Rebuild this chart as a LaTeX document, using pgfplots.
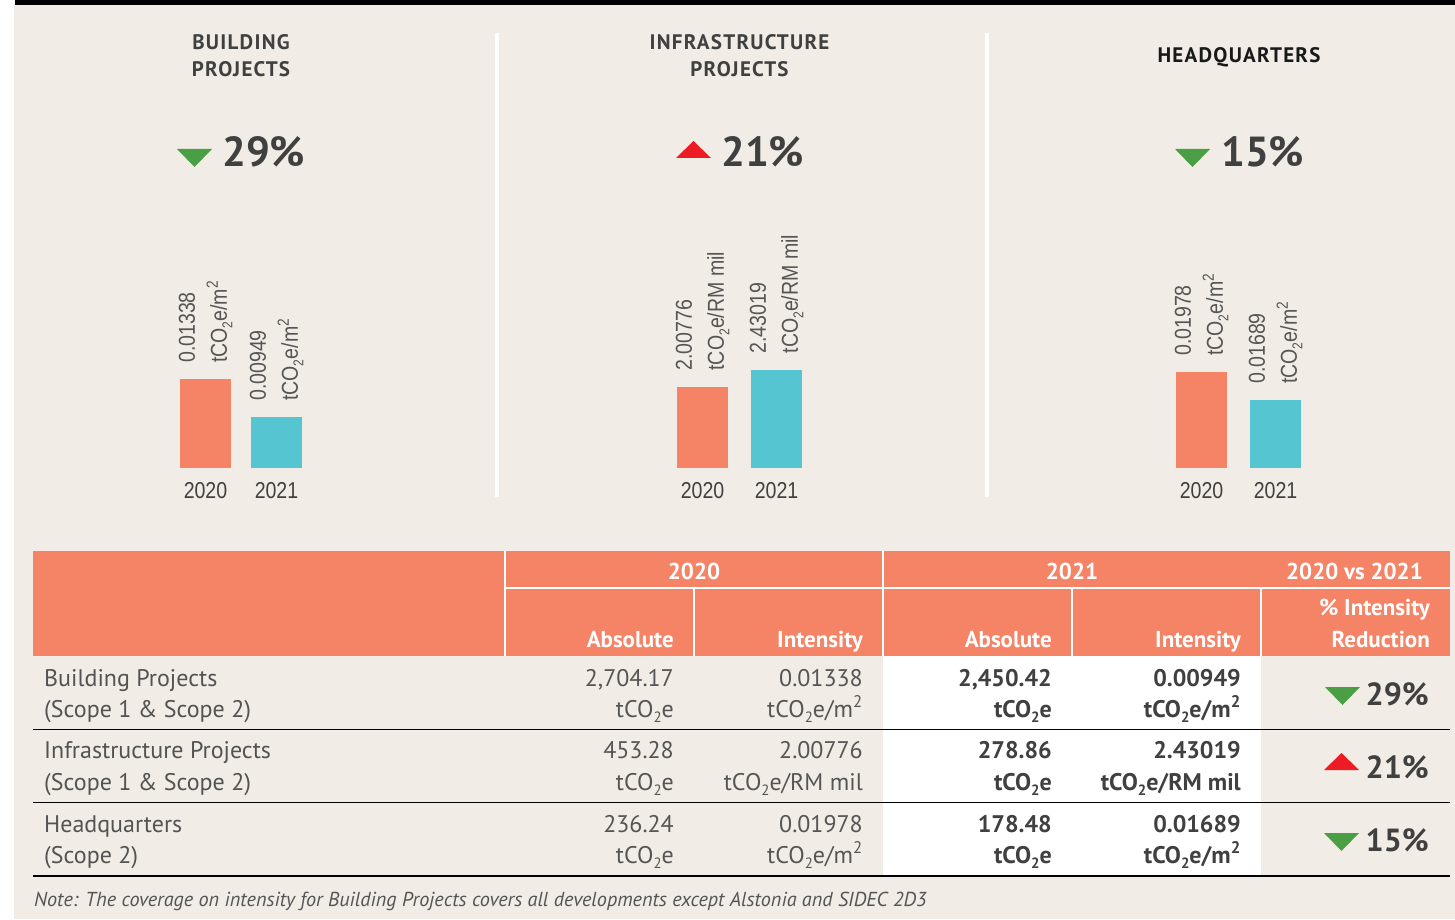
\documentclass[border=0pt]{standalone}
\usepackage{pgfplots}
\pgfplotsset{compat=1.18}
\usepackage{graphicx}
\usepackage{fontspec}
\setmainfont{PT Sans}
\newfontfamily\barfont[FakeStretch=0.85]{Liberation Sans}

\definecolor{paper}{HTML}{F1ECE5}
\definecolor{salmon}{HTML}{F58466}
\definecolor{aqua}{HTML}{55C5D1}
\definecolor{down}{HTML}{4A9E43}
\definecolor{up}{HTML}{ED1C24}
\definecolor{ink}{HTML}{404040}
\definecolor{soft}{HTML}{555555}

% small dropped subscript two, as in tCO2e
\newcommand\two{\raisebox{-0.45ex}{\scalebox{0.62}{2}}}
\newcommand\co{tCO\two e}
\newcommand\sqm{\co/m\textsuperscript{2}}
\newcommand\rmil{\co/RM mil}

% shared look of the three small bar panels
\pgfplotsset{
  panel/.style={
    anchor=south west, scale only axis,
    height=268pt,
    xmin=-0.5, xmax=1.5,
    axis line style={draw=none},
    ytick=\empty, xtick={0,1}, xticklabels={2020,2021},
    xtick style={draw=none}, major tick length=0pt,
    xticklabel style={font=\barfont\fontsize{23}{23}\selectfont, text=ink,
      inner sep=0pt, anchor=north, yshift=-14pt},
    ybar, bar width=51pt,
    point meta=explicit symbolic,
    nodes near coords style={rotate=90, anchor=west, align=left,
      font=\barfont\fontsize{23}{32}\selectfont, text=soft,
      inner xsep=16pt, inner ysep=0pt},
  },
}

\begin{document}
\begin{tikzpicture}
\path[use as bounding box] (0pt,0pt) rectangle (1455pt,919pt);
\begin{scope}[x=1pt, y=1pt, shift={(0pt,919pt)}, yscale=-1,
  title/.style={font=\bfseries\fontsize{21}{27}\selectfont\addfontfeature{LetterSpace=6},
    text=ink, align=center, inner sep=0pt},
  big/.style={font=\bfseries\fontsize{42}{42}\selectfont, text=ink, anchor=base west, inner sep=0pt},
  hd/.style={font=\bfseries\fontsize{23}{23}\selectfont, text=white, inner sep=0pt},
  lab/.style={font=\fontsize{24}{24}\selectfont, text=ink!90, anchor=base west, inner sep=0pt},
  old/.style={font=\fontsize{24}{24}\selectfont, text=soft, anchor=base east, inner sep=0pt},
  new/.style={font=\bfseries\fontsize{24}{24}\selectfont, text=ink, anchor=base east, inner sep=0pt},
  pct/.style={font=\bfseries\fontsize{32}{32}\selectfont, text=ink, anchor=base east, inner sep=0pt},
]
% page ground
\fill[white] (0,0) rectangle (1455,919);
\fill[paper] (14,5) rectangle (1455,919);
\fill[black] (15,0) rectangle (1455,5);

% panel separators
\fill[white] (495,33) rectangle (499,497);
\fill[white] (985,33) rectangle (989,497);

% panel titles
\node[title] at (241,56) {BUILDING\\PROJECTS};
\node[title] at (739.5,56) {INFRASTRUCTURE\\PROJECTS};
\node[title, text=black!90, anchor=base] at (1239,63) {HEADQUARTERS};

% headline changes
\fill[down] (177,149) -- (212,149) -- (194.5,167) -- cycle;
\node[big] at (222,167) {29\%};
\fill[up] (676,158) -- (711,158) -- (693.5,141) -- cycle;
\node[big] at (721,167) {21\%};
\fill[down] (1175,149) -- (1210,149) -- (1192.5,167) -- cycle;
\node[big] at (1221,167) {15\%};

% table header
\fill[salmon] (33,551) rectangle (1450,656);
\fill[white] (883,656) rectangle (1261,876);
\begin{scope}[draw=white, line width=1.5pt]
\draw (505,588) -- (1450,588);
\draw (505,551) -- (505,656);
\draw (883,551) -- (883,656);
\draw (694,588) -- (694,656);
\draw (1072,588) -- (1072,656);
\draw (1261,588) -- (1261,656);
\end{scope}
\node[hd, anchor=base] at (694,579) {2020};
\node[hd, anchor=base] at (1072,579) {2021};
\node[hd, anchor=base east] at (1423,579) {2020 vs 2021};
\node[hd, anchor=base east] at (674,647) {Absolute};
\node[hd, anchor=base east] at (863,647) {Intensity};
\node[hd, anchor=base east] at (1052,647) {Absolute};
\node[hd, anchor=base east] at (1241,647) {Intensity};
\node[hd, anchor=base east] at (1430,615) {\% Intensity};
\node[hd, anchor=base east] at (1430,647) {Reduction};

% row rules
\begin{scope}[draw=black, line width=1.3pt]
\draw (33,729.5) -- (1450,729.5);
\draw (33,802.5) -- (1450,802.5);
\draw (33,876) -- (1450,876);
\end{scope}

% row 1
\node[lab] at (44,686) {Building Projects};
\node[lab] at (44,717) {(Scope 1 \& Scope 2)};
\node[old] at (674,686) {2,704.17};  \node[old] at (674,717) {\co};
\node[old] at (863,686) {0.01338};   \node[old] at (863,717) {\sqm};
\node[new] at (1052,686) {2,450.42}; \node[new] at (1052,717) {\co};
\node[new] at (1241,686) {0.00949};  \node[new] at (1241,717) {\sqm};
\fill[down] (1325,687) -- (1360,687) -- (1342.5,705) -- cycle;
\node[pct] at (1429,705) {29\%};

% row 2
\node[lab] at (44,758) {Infrastructure Projects};
\node[lab] at (44,790) {(Scope 1 \& Scope 2)};
\node[old] at (674,758) {453.28};    \node[old] at (674,790) {\co};
\node[old] at (863,758) {2.00776};   \node[old] at (863,790) {\rmil};
\node[new] at (1052,758) {278.86};   \node[new] at (1052,790) {\co};
\node[new] at (1241,758) {2.43019};  \node[new] at (1241,790) {\rmil};
\fill[up] (1324,770) -- (1359,770) -- (1341.5,753) -- cycle;
\node[pct] at (1429,778) {21\%};

% row 3
\node[lab] at (44,832) {Headquarters};
\node[lab] at (44,863) {(Scope 2)};
\node[old] at (674,832) {236.24};    \node[old] at (674,863) {\co};
\node[old] at (863,832) {0.01978};   \node[old] at (863,863) {\sqm};
\node[new] at (1052,832) {178.48};   \node[new] at (1052,863) {\co};
\node[new] at (1241,832) {0.01689};  \node[new] at (1241,863) {\sqm};
\fill[down] (1324,833) -- (1359,833) -- (1341.5,851) -- cycle;
\node[pct] at (1429,851) {15\%};

% footnote
\node[font=\itshape\fontsize{20.2}{20}\selectfont, text=soft, anchor=base west, inner sep=0pt]
  at (34,906) {Note: The coverage on intensity for Building Projects covers all developments except Alstonia and SIDEC 2D3};
\end{scope}

% Building projects intensity (tCO2e/m2)
\begin{axis}[panel, at={(170pt,451pt)}, width=142pt,
  ymin=0.004269, ymax=0.031706,
  nodes near coords={\pgfplotspointmeta\\\sqm}]
\addplot[fill=salmon, draw=none, bar shift=0pt] coordinates {(0,0.01338) [0.01338]};
\addplot[fill=aqua, draw=none, bar shift=0pt] coordinates {(1,0.00949) [0.00949]};
\end{axis}

% Infrastructure projects intensity (tCO2e/RM mil)
\begin{axis}[panel, at={(665.5pt,451pt)}, width=148pt,
  ymin=0, ymax=6.617,
  nodes near coords={\pgfplotspointmeta\\\rmil}]
\addplot[fill=salmon, draw=none, bar shift=0pt] coordinates {(0,2.00776) [2.00776]};
\addplot[fill=aqua, draw=none, bar shift=0pt] coordinates {(1,2.43019) [2.43019]};
\end{axis}

% Headquarters intensity (tCO2e/m2)
\begin{axis}[panel, at={(1164.5pt,451pt)}, width=148pt,
  ymin=0.009871, ymax=0.037534,
  nodes near coords={\pgfplotspointmeta\\\sqm}]
\addplot[fill=salmon, draw=none, bar shift=0pt] coordinates {(0,0.01978) [0.01978]};
\addplot[fill=aqua, draw=none, bar shift=0pt] coordinates {(1,0.01689) [0.01689]};
\end{axis}
\end{tikzpicture}
\end{document}
